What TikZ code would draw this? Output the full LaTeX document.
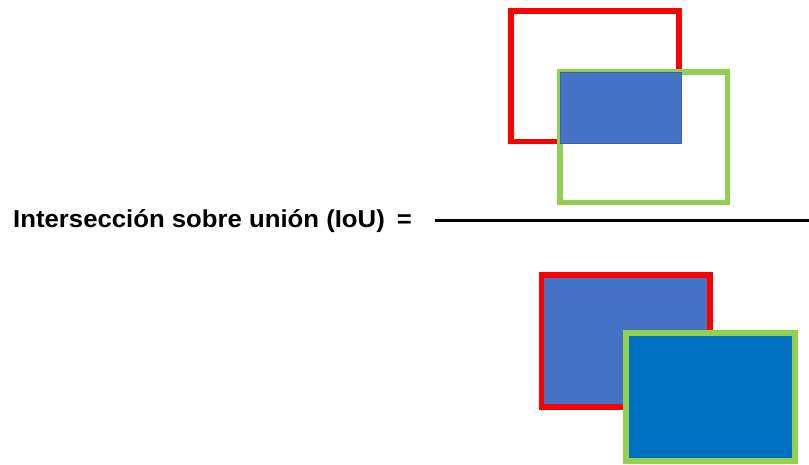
\documentclass[tikz,border=0pt]{standalone}
\usepackage{fontspec}
\setmainfont{Liberation Sans}
\definecolor{bred}{HTML}{FF0000}
\definecolor{bgreen}{HTML}{92D050}
\definecolor{fillA}{HTML}{4472C4}
\definecolor{fillB}{HTML}{0070C0}
\definecolor{edgeA}{HTML}{3A62A8}
\tikzset{
  redbox/.style={draw=bred, line width=5.5pt},
  greenbox/.style={draw=bgreen, line width=5.5pt},
  lbl/.style={font=\fontsize{24.5}{30}\selectfont\bfseries, inner sep=0pt, xscale=1.05}
}
\begin{document}
\begin{tikzpicture}[x=1pt,y=-1pt]
\useasboundingbox (0,0) rectangle (809,464);
% numerator
\draw[redbox] (511,11) rectangle (679,141.5);
\draw[greenbox] (560,72) rectangle (727.5,202.5);
\draw[fill=fillA, draw=edgeA, line width=0.6pt] (560,72.5) rectangle (681,143);
% fraction bar
\coordinate (barL) at (435,220.5);
\coordinate (barR) at (809,220.5);
\draw[line width=2.6pt] (barL) -- (barR);
% label
\node[lbl, anchor=base west] (lab) at (13,227) {Intersección sobre unión (IoU)};
\node[lbl, anchor=base] (eq) at (404.5,227) {=};
% denominator
\draw[redbox, fill=fillA] (541.5,275) rectangle (710,407);
\draw[greenbox, fill=fillB] (626,333) rectangle (795,461);
\end{tikzpicture}
\end{document}
